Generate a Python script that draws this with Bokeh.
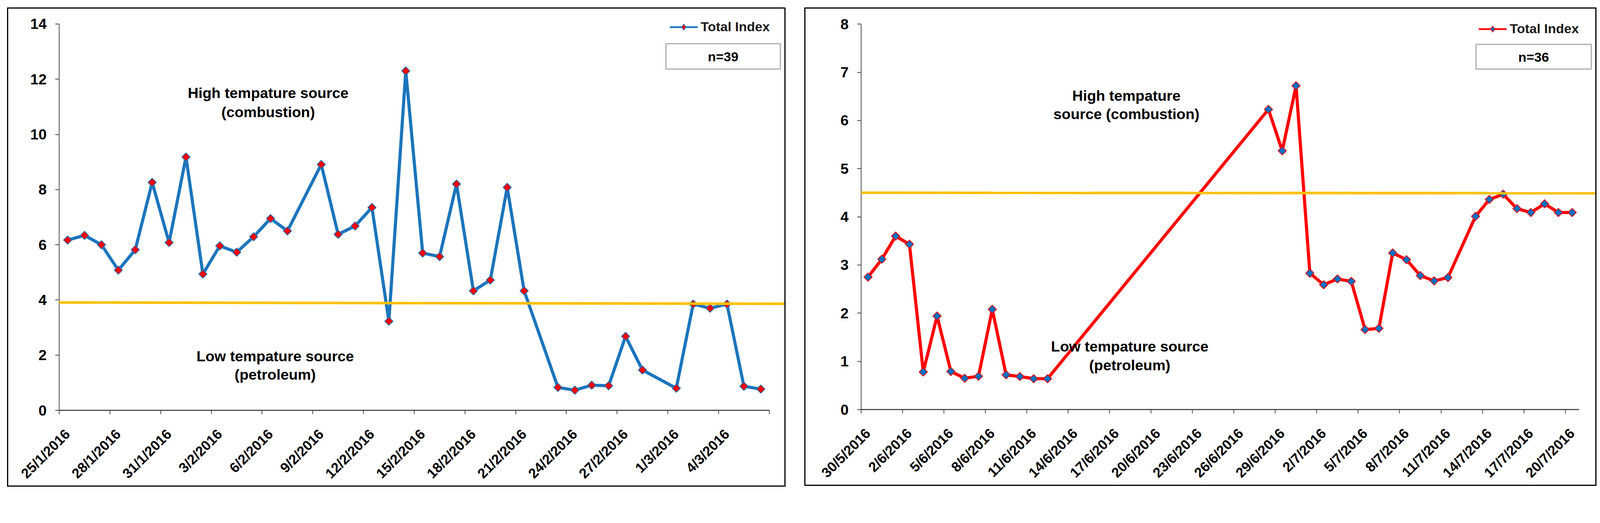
import math
import pandas as pd
from bokeh.plotting import figure
from bokeh.models import (FixedTicker, Label, BoxAnnotation, Arrow, Legend,
                          LegendItem, Range1d, Spacer)
from bokeh.layouts import row, column
from bokeh.embed import file_html
from bokeh.resources import INLINE

# ---------------- data: left panel ----------------
a_dates = ["25/1/2016", "26/1/2016", "27/1/2016", "28/1/2016", "29/1/2016",
           "30/1/2016", "31/1/2016", "1/2/2016", "2/2/2016", "3/2/2016",
           "4/2/2016", "5/2/2016", "6/2/2016", "7/2/2016", "9/2/2016",
           "10/2/2016", "11/2/2016", "12/2/2016", "13/2/2016", "14/2/2016",
           "15/2/2016", "16/2/2016", "17/2/2016", "18/2/2016", "19/2/2016",
           "20/2/2016", "21/2/2016", "23/2/2016", "24/2/2016", "25/2/2016",
           "26/2/2016", "27/2/2016", "28/2/2016", "1/3/2016", "2/3/2016",
           "3/3/2016", "4/3/2016", "5/3/2016", "6/3/2016"]
a_values = [6.17, 6.34, 6.00, 5.08, 5.82, 8.26, 6.08, 9.18, 4.94, 5.96,
            5.73, 6.29, 6.95, 6.50, 8.91, 6.38, 6.68, 7.35, 3.23, 12.30,
            5.70, 5.57, 8.20, 4.33, 4.72, 8.08, 4.33, 0.83, 0.73, 0.91,
            0.89, 2.68, 1.46, 0.80, 3.85, 3.70, 3.85, 0.87, 0.77]
a_tick_labels = ["25/1/2016", "28/1/2016", "31/1/2016", "3/2/2016", "6/2/2016",
                 "9/2/2016", "12/2/2016", "15/2/2016", "18/2/2016", "21/2/2016",
                 "24/2/2016", "27/2/2016", "1/3/2016", "4/3/2016"]
a_axis_start, a_axis_end = "25/1/2016", "6/3/2016"
a_y_ticks = [0, 2, 4, 6, 8, 10, 12, 14]
a_threshold = [3.91, 3.86]
a_n_text = "n=39"

# ---------------- data: right panel ----------------
b_dates = ["30/5/2016", "31/5/2016", "1/6/2016", "2/6/2016", "3/6/2016",
           "4/6/2016", "5/6/2016", "6/6/2016", "7/6/2016", "8/6/2016",
           "9/6/2016", "10/6/2016", "11/6/2016", "12/6/2016", "28/6/2016",
           "29/6/2016", "30/6/2016", "1/7/2016", "2/7/2016", "3/7/2016",
           "4/7/2016", "5/7/2016", "6/7/2016", "7/7/2016", "8/7/2016",
           "9/7/2016", "10/7/2016", "11/7/2016", "13/7/2016", "14/7/2016",
           "15/7/2016", "16/7/2016", "17/7/2016", "18/7/2016", "19/7/2016",
           "20/7/2016"]
b_values = [2.75, 3.12, 3.60, 3.43, 0.78, 1.94, 0.79, 0.65, 0.69, 2.08,
            0.72, 0.685, 0.64, 0.64, 6.23, 5.37, 6.72, 2.83, 2.59, 2.71,
            2.66, 1.66, 1.685, 3.25, 3.11, 2.78, 2.67, 2.74, 4.01, 4.36,
            4.47, 4.17, 4.09, 4.27, 4.09, 4.09]
b_tick_labels = ["30/5/2016", "2/6/2016", "5/6/2016", "8/6/2016", "11/6/2016",
                 "14/6/2016", "17/6/2016", "20/6/2016", "23/6/2016", "26/6/2016",
                 "29/6/2016", "2/7/2016", "5/7/2016", "8/7/2016", "11/7/2016",
                 "14/7/2016", "17/7/2016", "20/7/2016"]
b_axis_start, b_axis_end = "30/5/2016", "20/7/2016"
b_y_ticks = [0, 1, 2, 3, 4, 5, 6, 7, 8]
b_threshold = [4.50, 4.49]
b_n_text = "n=36"

FONT = "Liberation Sans"
YELLOW = "#FFC000"
S = 1 / 1.058          # reference pixels -> CSS pixels
BORDER = 3
MARGIN = 0             # bokeh's page template has no body margin
NAN = float("nan")


def day_offsets(dates, start):
    d = pd.to_datetime(pd.Series(dates), format="%d/%m/%Y")
    s = pd.to_datetime(start, format="%d/%m/%Y")
    return [int(v) for v in (d - s).dt.days]


def fs(r):
    return f"{r * S:.1f}px"


def ip(r):
    return int(round(r * S))


def make_panel(dates, values, tick_labels, axis_start, axis_end, y_ticks,
               threshold, n_text, line_color, marker_fill, g):
    x = day_offsets(dates, axis_start)
    last = day_offsets([axis_end], axis_start)[0]
    major = day_offsets(tick_labels, axis_start)
    minor = []
    k = 0
    while -0.5 + 3 * k <= last + 0.5 + 1e-9:
        minor.append(-0.5 + 3 * k)
        k += 1

    # geometry (reference px -> css px)
    L, T, R, B = g["outer"]
    c_left = L * S + BORDER
    c_top = T * S + BORDER
    c_w = int(round((R - L) * S - 2 * BORDER))
    c_h = int(round((B - T) * S - 2 * BORDER))
    fl, fr, ft, fb = g["frame"]
    mbl = int(round(fl * S - c_left))
    mbr = max(0, int(round(c_left + c_w - fr * S)))
    mbt = int(round(ft * S - c_top))
    mbb = int(round(c_top + c_h - fb * S))
    f_left = c_left + mbl
    f_right = c_left + c_w - mbr
    f_top = c_top + mbt
    f_bot = c_top + c_h - mbb

    xa0, xp0, xa1, xp1 = -0.5, g["x0px"] * S, last + 0.5, g["x1px"] * S
    ya0, yp0, ya1, yp1 = y_ticks[0], g["y0px"] * S, y_ticks[-1], g["y1px"] * S

    def xd(px_css):
        return xa0 + (px_css - xp0) * (xa1 - xa0) / (xp1 - xp0)

    def yd(px_css):
        return ya0 + (px_css - yp0) * (ya1 - ya0) / (yp1 - yp0)

    def xr(px_ref):
        return xd(px_ref * S)

    def yr(px_ref):
        return yd(px_ref * S)

    p = figure(width=c_w, height=c_h, output_backend="svg",
               toolbar_location=None,
               x_range=Range1d(-0.5, xd(f_right)),
               y_range=Range1d(y_ticks[0], yd(f_top)),
               min_border_left=mbl, min_border_right=mbr,
               min_border_top=mbt, min_border_bottom=mbb,
               styles={"border": f"{BORDER}px solid black"})
    p.outline_line_color = None
    p.grid.visible = False
    p.background_fill_color = "white"
    p.border_fill_color = "white"

    # x axis
    xa = p.xaxis[0]
    xa.bounds = (-0.5, last + 0.5)
    xa.ticker = FixedTicker(ticks=major, minor_ticks=minor)
    xa.major_label_overrides = {m: lab for m, lab in zip(major, tick_labels)}
    xa.major_tick_out = 0
    xa.major_tick_in = 0
    xa.minor_tick_in = 0
    xa.minor_tick_out = ip(11)
    xa.minor_tick_line_width = 2 * S
    xa.minor_tick_line_color = "#404040"
    xa.axis_line_width = 3 * S
    xa.axis_line_color = "#4d4d4d"
    xa.major_label_orientation = math.pi / 4
    xa.major_label_standoff = ip(48)
    xa.major_label_text_font = FONT
    xa.major_label_text_font_style = "bold"
    xa.major_label_text_font_size = fs(38)
    xa.major_label_text_color = "black"

    # y axis
    ya = p.yaxis[0]
    ya.bounds = (y_ticks[0], y_ticks[-1])
    ya.ticker = FixedTicker(ticks=y_ticks)
    ya.major_tick_out = ip(11)
    ya.major_tick_in = 0
    ya.major_tick_line_width = 2 * S
    ya.major_tick_line_color = "#404040"
    ya.minor_tick_out = 0
    ya.minor_tick_in = 0
    ya.axis_line_width = 2 * S
    ya.axis_line_color = "#404040"
    ya.major_label_standoff = ip(23)
    ya.major_label_text_font = FONT
    ya.major_label_text_font_style = "bold"
    ya.major_label_text_font_size = fs(40)
    ya.major_label_text_color = "black"

    # threshold line
    p.add_layout(Arrow(end=None, x_start=xr(g["thr_px"][0]), y_start=threshold[0],
                       x_end=xr(g["thr_px"][1]), y_end=threshold[1],
                       line_color=YELLOW, line_width=7 * S))

    # series
    p.line(x, values, line_color=line_color, line_width=8.5 * S)
    p.scatter(x, values, marker="square", angle=math.pi / 4, size=16 * S,
              fill_color=marker_fill, line_color=line_color, line_width=2 * S)

    # legend proxies (not drawn in the plot area)
    lg_line = p.line([NAN], [NAN], line_color=line_color, line_width=4.5 * S)
    lg_mark = p.scatter([NAN], [NAN], marker="diamond", size=20 * S,
                        fill_color=marker_fill, line_color=line_color,
                        line_width=1.5 * S)
    lx0, lyc = g["legend_px"]
    gh = 40
    legend = Legend(items=[LegendItem(label="Total Index",
                                      renderers=[lg_line, lg_mark])],
                    location=(lx0 * S - f_left, f_bot - (lyc * S + gh / 2)),
                    glyph_width=ip(76), glyph_height=gh,
                    label_height=gh, label_standoff=ip(8),
                    padding=0, margin=0, spacing=0,
                    border_line_color=None, background_fill_alpha=0,
                    label_text_font=FONT, label_text_font_style="bold",
                    label_text_font_size=fs(36), label_text_color="#1a1a1a")
    p.add_layout(legend)

    # n box
    bl, bt, br, bb = g["nbox_px"]
    p.add_layout(BoxAnnotation(left=xr(bl), right=xr(br), bottom=yr(bb), top=yr(bt),
                               fill_alpha=0, line_color="black", line_width=3.5 * S))
    p.add_layout(Label(x=xr((bl + br) / 2), y=yr((bt + bb) / 2 + 1),
                       text=n_text, text_align="center",
                       text_baseline="middle", text_font=FONT,
                       text_font_style="bold", text_font_size=fs(36),
                       text_color="black"))

    # region texts
    for (tx, ty, txt) in g["texts_px"]:
        p.add_layout(Label(x=xr(tx), y=yr(ty), text=txt, text_align="center",
                           text_baseline="middle", text_font=FONT,
                           text_font_style="bold", text_font_size=fs(40),
                           text_color="black"))
    return p


geo_a = dict(
    outer=(19, 20, 2134, 1324),
    frame=(160, 2126, 45, 1115),
    x0px=160, x1px=2083, y0px=1115, y1px=64.5,
    thr_px=(137, 2126),
    legend_px=(1813, 77),
    nbox_px=(1803, 118, 2113, 187),
    texts_px=[(726, 252, "High tempature source"),
              (726, 303.6, "(combustion)"),
              (745, 967.7, "Low tempature source"),
              (745, 1017.5, "(petroleum)")],
)
geo_b = dict(
    outer=(2185, 20, 4337, 1322),
    frame=(2338.4, 4334, 45, 1109),
    x0px=2338.4, x1px=4283, y0px=1109, y1px=64.7,
    thr_px=(2309, 4336),
    legend_px=(4011, 78),
    nbox_px=(4003.7, 119.6, 4316, 186.6),
    texts_px=[(3057, 259, "High tempature"),
              (3057, 308, "source (combustion)"),
              (3066, 938, "Low tempature source"),
              (3066, 989, "(petroleum)")],
)

p1 = make_panel(a_dates, a_values, a_tick_labels, a_axis_start, a_axis_end,
                a_y_ticks, a_threshold, a_n_text, "#1B75BC", "#FF0000", geo_a)
p2 = make_panel(b_dates, b_values, b_tick_labels, b_axis_start, b_axis_end,
                b_y_ticks, b_threshold, b_n_text, "#FF0000", "#0070C0", geo_b)

sp_left = int(round(geo_a["outer"][0] * S - MARGIN))
sp_gap = int(round((geo_b["outer"][0] - geo_a["outer"][2]) * S))
sp_top = int(round(geo_a["outer"][1] * S - MARGIN))

layout = column(Spacer(height=sp_top),
                row(Spacer(width=sp_left), p1, Spacer(width=sp_gap), p2))

open("out.html", "w").write(file_html(layout, INLINE))
